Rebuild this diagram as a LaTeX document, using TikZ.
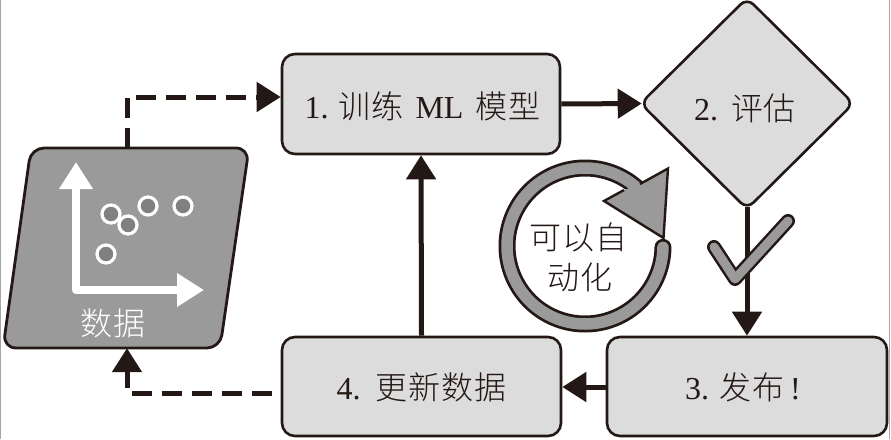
\documentclass[tikz,border=0pt]{standalone}
\usepackage{fontspec}
\setmainfont{Liberation Serif}
\newfontfamily\cjk[LetterSpace=3,UprightFont={* Light}]{Noto Sans CJK SC}
\usetikzlibrary{arrows.meta,shapes.geometric}
\definecolor{boxgray}{HTML}{DCDCDC}
\definecolor{midgray}{HTML}{9A9A9A}
\definecolor{dotgray}{HTML}{808080}
\definecolor{ink}{HTML}{231815}
\tikzset{
  x=1pt,y=-1pt,
  stepbox/.style={draw=ink,line width=2.6pt,fill=boxgray,rounded corners=13pt,inner sep=0pt,font=\fontsize{32}{38}\selectfont,text=ink},
  decisionbox/.style={stepbox,shape=diamond,rounded corners=9pt},
  flow/.style={draw=ink,line width=5pt,-{Triangle[length=24pt,width=29pt]}},
  dashflow/.style={flow,dash pattern=on 20pt off 10pt},
  whiteaxis/.style={draw=white,line width=8pt,{Triangle[length=27pt,width=32pt]}-{Triangle[length=27pt,width=32pt]}},
  point/.style={circle,draw=white,fill=dotgray,line width=3.2pt,minimum size=18pt,inner sep=0pt},
  caption/.style={font=\fontsize{32}{38}\selectfont\cjk,inner sep=0pt,text=ink},
  boxtext/.style={font=\fontsize{32}{38}\selectfont,inner sep=0pt,text=ink}
}
\begin{document}
\begin{tikzpicture}
\useasboundingbox (0,0) rectangle (891,439);
\fill[white] (0,0) rectangle (891,439);
\draw[gray!70,line width=1.2pt] (0.6,0) -- (0.6,439);
\draw[gray!70,line width=1.2pt] (889.5,0) -- (889.5,439);

% nodes
\node[stepbox,minimum width=278pt,minimum height=100pt] (train) at (421,104) {};
\node[decisionbox,minimum width=214pt,minimum height=212pt] (eval) at (747,103.5) {};
\node[stepbox,minimum width=280pt,minimum height=99pt] (deploy) at (747,386.5) {};
\node[stepbox,minimum width=279pt,minimum height=99pt] (update) at (421.5,386.5) {};
\node[minimum width=246pt,minimum height=200pt,inner sep=0pt] (data) at (127,248) {};

\node[boxtext] (trainText) at (422.5,106) {1.\hspace{10pt}{\cjk 训练}\hspace{12pt}ML\hspace{12pt}{\cjk 模型}};
\node[boxtext] (evalText) at (745,108) {2.\hspace{13pt}{\cjk 评估}};
\node[boxtext] (deployText) at (743,387) {3.\hspace{10pt}{\cjk 发布}\hspace{6pt}!};
\node[boxtext] (updateText) at (421.5,387) {4.\hspace{15pt}{\cjk 更新数据}};

% data parallelogram
\draw[draw=ink,line width=2.8pt,fill=midgray,rounded corners=13pt]
  (31,148) -- (249,148) -- (220,348) -- (3,348) -- cycle;

% connectors
\draw[flow] (train.east) -- ([xshift=3pt]eval.west);
\draw[flow] ([yshift=4pt]eval.south) -- (deploy.north);
\draw[flow] ([yshift=-0.5pt]deploy.west) -- ([yshift=-0.5pt]update.east);
\draw[flow] (update.north) -- (train.south);
\draw[dashflow] (data.north) |- ([yshift=7pt]train.west);
\draw[dashflow,shorten <=9pt] ([yshift=-6.5pt]update.west) -| (data.south);

% chart
\coordinate (axisTop) at (76,162);
\coordinate (axisCorner) at (76,290);
\coordinate (axisEnd) at (204,290);
\draw[whiteaxis,line join=round] (axisTop) -- (axisCorner) -- (axisEnd);
\node[point] (p1) at (111,214) {};
\node[point] (p2) at (128,225) {};
\node[point] (p3) at (148,206) {};
\node[point] (p4) at (183,206) {};
\node[point] (p5) at (106,254) {};
\node[caption,text=white] (datalabel) at (113,323) {数据};

% check mark
\draw[ink,line width=14pt,line cap=round,line join=round] (714,247) -- (735,279) -- (788,221);
\draw[midgray,line width=9pt,line cap=round,line join=round] (714,247) -- (735,279) -- (788,221);

% loop
\draw[ink,line width=17pt,line cap=round] plot[domain=1:312,samples=120] ({585+78*cos(\x)},{246+78*sin(\x)});
\draw[midgray,line width=11.5pt,line cap=round] plot[domain=1:312,samples=120] ({585+78*cos(\x)},{246+78*sin(\x)});
\fill[midgray] (668,168.5) -- (663.5,238) -- (604,201) -- (624,190) -- (640,184) -- cycle;
\draw[ink,line width=2.4pt,line join=miter] (624,190) -- (604,201) -- (663.5,238) -- (668,168.5) -- (640,184);

\node[caption] (auto1) at (578.5,237) {可以自};
\node[caption] (auto2) at (580,277) {动化};
\end{tikzpicture}
\end{document}
